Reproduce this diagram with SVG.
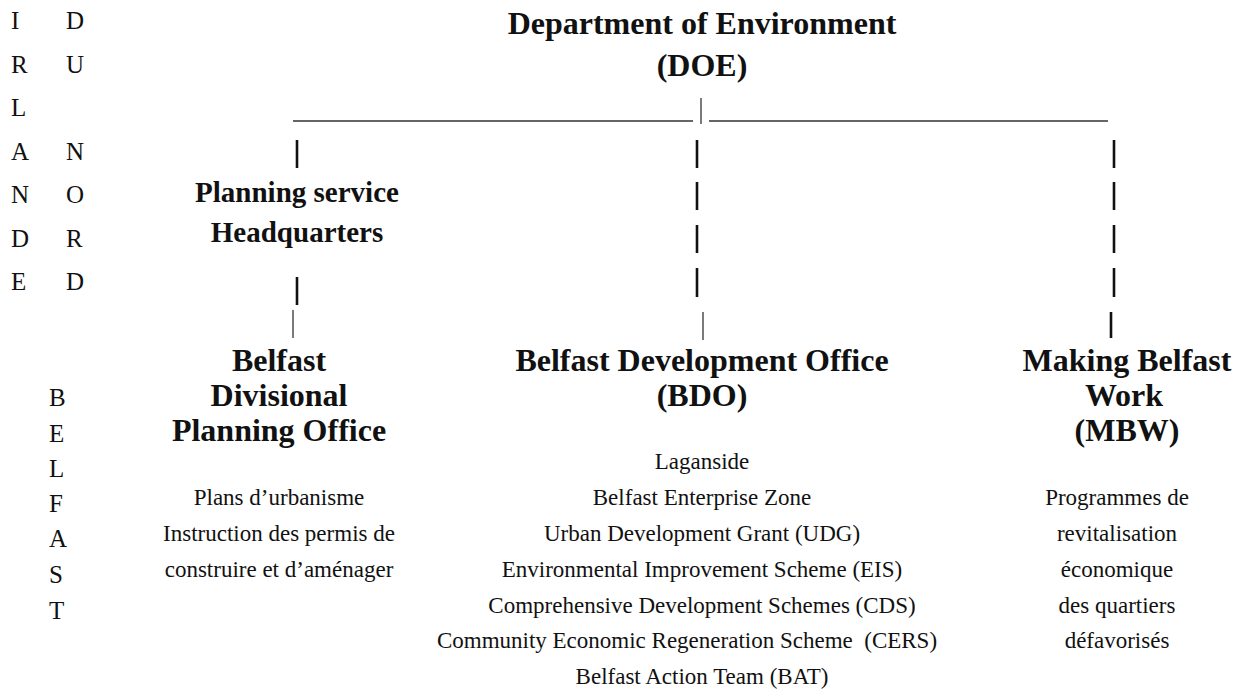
<svg xmlns="http://www.w3.org/2000/svg" width="1245" height="691" viewBox="0 0 1245 691">
<style>
text{font-family:"Liberation Serif","Times New Roman",serif;fill:#111}
.h{font-weight:bold;font-size:32px;text-anchor:middle}
.h2{font-weight:bold;font-size:29px;text-anchor:middle}
.s{font-size:23px;text-anchor:middle}
.v{font-size:25px}
.bold{stroke:#111;stroke-width:2.6}
.thin{stroke:#333;stroke-width:1.3}
</style>
<rect width="1245" height="691" fill="#fff"/>
<g id="side-irlande-du-nord">
<text class="v" x="11" y="29">I</text><text class="v" x="66" y="29">D</text>
<text class="v" x="11" y="72.5">R</text><text class="v" x="66" y="72.5">U</text>
<text class="v" x="11" y="116">L</text>
<text class="v" x="11" y="159.5">A</text><text class="v" x="66" y="159.5">N</text>
<text class="v" x="11" y="203">N</text><text class="v" x="66" y="203">O</text>
<text class="v" x="11" y="246.5">D</text><text class="v" x="66" y="246.5">R</text>
<text class="v" x="11" y="290">E</text><text class="v" x="66" y="290">D</text>
</g>
<g id="side-belfast">
<text class="v" x="49" y="406">B</text>
<text class="v" x="49" y="442">E</text>
<text class="v" x="49" y="477">L</text>
<text class="v" x="49" y="512">F</text>
<text class="v" x="49" y="547">A</text>
<text class="v" x="49" y="583">S</text>
<text class="v" x="49" y="619">T</text>
</g>
<g id="doe">
<text class="h" x="702" y="34">Department of Environment</text>
<text class="h" x="702" y="76">(DOE)</text>
</g>
<g id="planning-hq">
<text class="h2" x="297" y="202">Planning service</text>
<text class="h2" x="297" y="242">Headquarters</text>
</g>
<g id="bdpo">
<text class="h" x="279" y="371">Belfast</text>
<text class="h" x="279" y="406">Divisional</text>
<text class="h" x="279" y="441">Planning Office</text>
<text class="s" x="279" y="505">Plans d’urbanisme</text>
<text class="s" x="279" y="541">Instruction des permis de</text>
<text class="s" x="279" y="577">construire et d’aménager</text>
</g>
<g id="bdo">
<text class="h" x="702" y="371">Belfast Development Office</text>
<text class="h" x="702" y="406">(BDO)</text>
<text class="s" x="702" y="469">Laganside</text>
<text class="s" x="702" y="505">Belfast Enterprise Zone</text>
<text class="s" x="702" y="541">Urban Development Grant (UDG)</text>
<text class="s" x="702" y="577">Environmental Improvement Scheme (EIS)</text>
<text class="s" x="702" y="613">Comprehensive Development Schemes (CDS)</text>
<text class="s" x="687" y="648" xml:space="preserve">Community Economic Regeneration Scheme  (CERS)</text>
<text class="s" x="702" y="684">Belfast Action Team (BAT)</text>
</g>
<g id="mbw">
<text class="h" x="1127" y="371">Making Belfast</text>
<text class="h" x="1124" y="406">Work</text>
<text class="h" x="1127" y="441">(MBW)</text>
<text class="s" x="1117" y="505">Programmes de</text>
<text class="s" x="1117" y="541">revitalisation</text>
<text class="s" x="1117" y="577">économique</text>
<text class="s" x="1117" y="613">des quartiers</text>
<text class="s" x="1117" y="648">défavorisés</text>
</g>
<g id="connectors">
<line class="thin" x1="293" y1="121" x2="693" y2="121"/>
<line class="thin" x1="709" y1="121" x2="1108" y2="121"/>
<line class="thin" x1="701" y1="98" x2="701" y2="124"/>
<line class="bold" x1="297" y1="140" x2="297" y2="168"/>
<line class="bold" x1="297" y1="277" x2="297" y2="305"/>
<line class="thin" x1="293" y1="310" x2="293" y2="338"/>
<line class="bold" x1="697" y1="140" x2="697" y2="168"/>
<line class="bold" x1="697" y1="182" x2="697" y2="210"/>
<line class="bold" x1="697" y1="225" x2="697" y2="253"/>
<line class="bold" x1="697" y1="268" x2="697" y2="297"/>
<line class="thin" x1="703" y1="312" x2="703" y2="340"/>
<line class="bold" x1="1114" y1="140" x2="1114" y2="168"/>
<line class="bold" x1="1114" y1="182" x2="1114" y2="210"/>
<line class="bold" x1="1114" y1="225" x2="1114" y2="253"/>
<line class="bold" x1="1114" y1="268" x2="1114" y2="297"/>
<line class="bold" x1="1111" y1="312" x2="1111" y2="338"/>
</g>
</svg>
